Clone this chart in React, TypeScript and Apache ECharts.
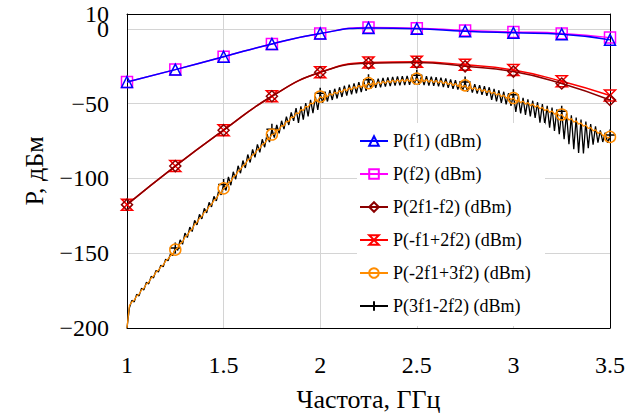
import React, { useEffect, useRef } from "react";
import * as echarts from "echarts";

// Main harmonics sampled every 0.25 GHz
const FREQ_MAIN = [1, 1.25, 1.5, 1.75, 2, 2.25, 2.5, 2.75, 3, 3.25, 3.5];
const P_F1 = [-35.5, -27.2, -18.6, -10, -3, 0.7, 0.2, -1.5, -2.6, -3.5, -7.3];
const P_F2 = [-35.5, -27.2, -18.6, -10, -3, 0.9, 0.5, -1, -2, -3, -5.8];
const P_2F1_F2 = [-117.5, -91.7, -67.7, -45, -29, -23, -22.5, -25, -28.5, -36.5, -47.5];
const P_MF1_2F2 = [-117.5, -91.7, -67.7, -45, -29, -22.5, -22, -24, -27.5, -35, -44.5];

// Fine sweep for 5th-order products
const FINE_START = 1;
const FINE_STEP = 0.0125;
const P_M2F1_3F2 = [
  -200,
  -185, -182.6, -181.4, -178.6, -177.4, -174.6, -173.4, -170.6, -169.4, -166.6,
  -165.4, -162.6, -161.4, -159.1, -157.9, -155.1, -153.9, -151.6, -150.4, -147.6,
  -146.4, -143.6, -142.4, -139.1, -137.9, -135.1, -133.9, -130.6, -129.4, -126.6,
  -125.4, -122.6, -121.4, -118.6, -117.4, -114.6, -113.4, -110.6, -109.4, -106.6,
  -105.4, -102.6, -101.9, -99.1, -97.9, -95.1, -93.9, -91.6, -90.4, -87.6,
  -86.7, -84.2, -83.3, -80.8, -79.9, -77.4, -76.5, -74, -73.1, -70.6,
  -70.4, -67.4, -67.6, -64.6, -64.8, -61.8, -62, -59, -59.2, -56.2,
  -56.7, -54, -54.5, -51.8, -52.3, -49.6, -50.1, -47.4, -47.9, -45.2,
  -46.3, -44.2, -45.3, -43.2, -44.3, -42.2, -43.3, -41.2, -42.3, -40.2,
  -41.4, -39.4, -40.6, -38.6, -39.8, -37.8, -39, -37, -38.2, -36.2,
  -37.6, -35.8, -37.2, -35.4, -36.8, -35, -36.4, -34.6, -36, -34.2,
  -35.7, -34, -35.5, -33.8, -35.3, -33.6, -35.1, -33.4, -34.9, -33.2,
  -35, -33.5, -35.3, -33.8, -35.6, -34.1, -35.9, -34.4, -36.2, -34.7,
  -36.6, -35.3, -37.2, -35.9, -37.8, -36.5, -38.4, -37.1, -39, -37.7,
  -39.7, -38.4, -40.4, -39.1, -41.1, -39.8, -41.8, -40.5, -42.5, -41.2,
  -43.3, -42.2, -44.3, -43.2, -45.3, -44.2, -46.3, -45.2, -47.3, -46.2,
  -48.3, -47.2, -49.3, -48.2, -50.3, -49.2, -51.3, -50.2, -52.3, -51.2,
  -53.4, -52.4, -54.6, -53.6, -55.8, -54.8, -57, -56, -58.2, -57.2,
  -59.5, -58.6, -60.9, -60, -62.3, -61.4, -63.7, -62.8, -65.1, -64.2,
  -66.6, -65.8, -68.2, -67.4, -69.8, -69, -71.4, -70.6, -73, -72.2,
];
const P_3F1_2F2 = [
  -200,
  -186.5, -181.5, -182.5, -177.5, -178.5, -173.5, -174.5, -169.5, -170.5, -165.5,
  -166.5, -161.5, -162.5, -158, -159, -154, -155, -150.5, -151.5, -146.5,
  -148, -141, -144, -136.5, -139.5, -132.5, -135.5, -128, -131, -124,
  -127, -120, -123, -116, -119, -112, -115, -108, -111, -104,
  -108, -99, -104.5, -95.5, -100.5, -91.5, -96.5, -88, -93, -84,
  -89.3, -80.6, -85.9, -77.2, -82.5, -73.8, -79.1, -70.4, -75.7, -67,
  -72.6, -64.2, -69.8, -61.4, -67, -58.6, -64.2, -55.8, -61.4, -53,
  -62.9, -51.8, -60.7, -49.6, -58.5, -47.4, -56.3, -45.2, -54.1, -43,
  -49.5, -42, -48.5, -41, -47.5, -40, -46.5, -39, -45.5, -38,
  -44.6, -37.2, -43.8, -36.4, -43, -35.6, -42.2, -34.8, -41.4, -34,
  -39.8, -33.6, -39.4, -33.2, -39, -32.8, -38.6, -32.4, -38.2, -32,
  -37.9, -31.8, -37.7, -31.6, -37.5, -31.4, -37.3, -31.2, -37.1, -31,
  -37.2, -31.3, -37.5, -31.6, -37.8, -31.9, -38.1, -32.2, -38.4, -32.5,
  -38.8, -33.1, -39.4, -33.7, -40, -34.3, -40.6, -34.9, -41.2, -35.5,
  -41.9, -36.2, -42.6, -36.9, -43.3, -37.6, -44, -38.3, -44.7, -39,
  -47.5, -40, -48.5, -41, -49.5, -42, -50.5, -43, -51.5, -44,
  -55.5, -45, -56.5, -46, -57.5, -47, -58.5, -48, -59.5, -49,
  -62.6, -50.2, -63.8, -51.4, -66, -52.6, -68.2, -53.8, -70.4, -55,
  -73.7, -56.4, -77.1, -57.8, -80.5, -59.2, -82.9, -60.6, -83.3, -62,
  -79.8, -63.6, -77.4, -65.2, -76, -67.8, -75.6, -69.4, -76.2, -71,
];
const MARKER_EVERY = 20;

const Y_MIN = -200;
const Y_MAX = 10;
const Y_STEP = 50;

const FONT = "Liberation Serif";

const HOURGLASS = "path://M0,0L10,0L0,10L10,10Z";
const PLUS = "path://M5,0L5,10M0,5L10,5";

function mainSeries(name: string, vals: number[], color: string, symbol: string, z: number) {
  return {
    name,
    type: "line",
    smooth: true,
    z,
    data: FREQ_MAIN.map((f, i) => [f, vals[i]]),
    symbol,
    symbolSize: 11,
    showAllSymbol: true,
    lineStyle: { color, width: 1.5 },
    itemStyle: { color: "rgba(255,255,255,0)", borderColor: color, borderWidth: 1.5 },
  };
}

function fineSeries(name: string, vals: number[], color: string, symbol: string, z: number) {
  return {
    name,
    type: "line",
    z,
    data: vals.map((v, i) => ({
      value: [FINE_START + i * FINE_STEP, v],
      symbol: i > 0 && i % MARKER_EVERY === 0 ? symbol : "none",
    })),
    symbol,
    symbolSize: 11,
    showAllSymbol: true,
    lineStyle: { color, width: 1.3 },
    itemStyle: { color: "rgba(255,255,255,0)", borderColor: color, borderWidth: 1.5 },
  };
}

const minus = (v: number) => String(v).replace("-", "\u2212");

export default function App() {
  const ref = useRef<HTMLDivElement>(null);
  useEffect(() => {
    const chart = echarts.init(ref.current!, null, { renderer: "svg" });
    const axisLineStyle = { color: "#000", width: 1 };
    const GRID_LEFT = 127;
    const LABEL_MARGIN = 18;
    const legendBg = {
      type: "rect",
      z: 5,
      shape: { x: 357, y: 123, width: 188, height: 203 },
      style: { fill: "#fff" },
    };
    const option: any = {
      animation: false,
      textStyle: { fontFamily: FONT },
      grid: { left: GRID_LEFT, right: 17, top: 14, bottom: 86, outerBoundsMode: "none", containLabel: false },
      xAxis: [
        {
          type: "value",
          min: 1,
          max: 3.5,
          interval: 0.5,
          name: "Частота, ГГц",
          nameLocation: "middle",
          nameGap: 58,
          nameTextStyle: { fontFamily: FONT, fontSize: 26, color: "#000" },
          axisLine: { show: true, onZero: false, lineStyle: axisLineStyle },
          axisTick: { show: false },
          axisLabel: { fontFamily: FONT, fontSize: 24, color: "#000", margin: 25 },
          splitLine: { show: true, lineStyle: { color: "#d4d4d4", width: 1 } },
        },
        {
          type: "value",
          position: "top",
          min: 1,
          max: 3.5,
          axisLine: { show: true, onZero: false, lineStyle: axisLineStyle },
          axisTick: { show: false },
          axisLabel: { show: false },
          splitLine: { show: false },
        },
      ],
      yAxis: [
        {
          type: "value",
          min: Y_MIN,
          max: Y_MAX,
          interval: Y_STEP,
          name: "P, дБм",
          nameLocation: "middle",
          nameGap: 80,
          nameTextStyle: { fontFamily: FONT, fontSize: 26, color: "#000" },
          axisLine: { show: true, onZero: false, lineStyle: axisLineStyle },
          axisTick: { show: false },
          axisLabel: {
            fontFamily: FONT,
            fontSize: 24,
            color: "#000",
            margin: LABEL_MARGIN,
            formatter: minus,
          },
          splitLine: { show: true, lineStyle: { color: "#d4d4d4", width: 1 } },
        },
        {
          type: "value",
          position: "right",
          min: Y_MIN,
          max: Y_MAX,
          axisLine: { show: true, onZero: false, lineStyle: axisLineStyle },
          axisTick: { show: false },
          axisLabel: { show: false },
          splitLine: { show: false },
        },
      ],
      legend: {
        orient: "vertical",
        left: 354,
        top: 126,
        itemGap: 13,
        itemWidth: 28,
        itemHeight: 12,
        z: 10,
        textStyle: { fontFamily: FONT, fontSize: 18, color: "#000", lineHeight: 20 },
      },
      graphic: { elements: [legendBg] },
      series: [
        mainSeries("P(f1) (dBm)", P_F1, "#0000ff", "triangle", 5),
        mainSeries("P(f2) (dBm)", P_F2, "#ff00ff", "rect", 4),
        mainSeries("P(2f1-f2) (dBm)", P_2F1_F2, "#8b0000", "diamond", 4),
        mainSeries("P(-f1+2f2) (dBm)", P_MF1_2F2, "#ff0000", HOURGLASS, 3),
        fineSeries("P(-2f1+3f2) (dBm)", P_M2F1_3F2, "#ff8c00", "circle", 3),
        fineSeries("P(3f1-2f2) (dBm)", P_3F1_2F2, "#000000", PLUS, 2),
      ],
    };
    chart.setOption(option);
    // Label for the axis maximum (not on the 50-step tick grid)
    const yTop = chart.convertToPixel({ yAxisIndex: 0 }, Y_MAX) as number;
    chart.setOption({
      graphic: {
        elements: [
          legendBg,
          {
            type: "text",
            z: 5,
            x: GRID_LEFT - LABEL_MARGIN,
            y: yTop,
            style: {
              text: String(Y_MAX),
              fontFamily: FONT,
              fontSize: 24,
              fill: "#000",
              align: "right",
              verticalAlign: "middle",
            },
          },
        ],
      },
    });
    return () => chart.dispose();
  }, []);
  return (
    <div
      ref={ref}
      style={{ width: 627, height: 414, position: "absolute", left: 0, top: 0, background: "#fff" }}
    />
  );
}
